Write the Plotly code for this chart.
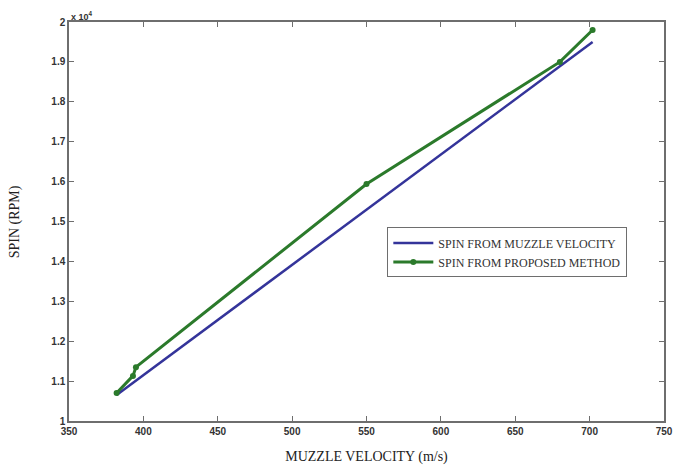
import plotly.graph_objects as go

# Data (RPM values)
vel_muzzle = [382, 702]
spin_muzzle = [10650, 19500]

vel_proposed = [382, 393, 395, 550, 680, 702]
spin_proposed = [10700, 11130, 11350, 15940, 19000, 19800]

x_ticks = [350, 400, 450, 500, 550, 600, 650, 700, 750]
y_tickvals = [10000, 11000, 12000, 13000, 14000, 15000, 16000, 17000, 18000, 19000, 20000]
y_ticktext = ["1", "1.1", "1.2", "1.3", "1.4", "1.5", "1.6", "1.7", "1.8", "1.9", "2"]

fig = go.Figure()
fig.add_trace(go.Scatter(
    x=vel_muzzle, y=spin_muzzle, mode="lines",
    name="SPIN FROM MUZZLE VELOCITY",
    line=dict(color="#34349a", width=2.5),
))
fig.add_trace(go.Scatter(
    x=vel_proposed, y=spin_proposed, mode="lines+markers",
    name="SPIN FROM PROPOSED METHOD",
    line=dict(color="#2b7a2b", width=3),
    marker=dict(color="#2b7a2b", size=6, symbol="circle"),
))

axis_common = dict(
    showline=True, linecolor="#6e6e6e", linewidth=1.5, mirror="allticks",
    ticks="inside", ticklen=5, tickcolor="#6e6e6e", tickwidth=1,
    showgrid=False, zeroline=False, automargin=False,
    tickfont=dict(family="Liberation Sans, Arial", size=10, color="#333333", weight="bold"),
)

fig.update_xaxes(
    range=[350, 750], tickvals=x_ticks, ticktext=[str(v) for v in x_ticks],
    title=dict(text="MUZZLE VELOCITY (m/s)",
               font=dict(family="Liberation Serif, Times New Roman", size=14, color="#222222")),
    **axis_common,
)
fig.update_yaxes(
    range=[10000, 20000], tickvals=y_tickvals, ticktext=y_ticktext,
    **axis_common,
)

fig.add_annotation(
    x=-0.091, y=0.5, xref="paper", yref="paper", xanchor="center", yanchor="middle",
    text="SPIN (RPM)", textangle=-90, showarrow=False,
    font=dict(family="Liberation Serif, Times New Roman", size=14, color="#222222"),
)

fig.add_annotation(
    x=0, y=1, xref="paper", yref="paper", xanchor="left", yanchor="bottom",
    text="x 10<sup>4</sup>", showarrow=False, yshift=-2,
    font=dict(family="Liberation Sans, Arial", size=9, color="#333333", weight="bold"),
)

fig.update_layout(
    width=683, height=472,
    margin=dict(l=69, r=19, t=22, b=51),
    plot_bgcolor="white", paper_bgcolor="white",
    legend=dict(
        x=0.535, y=0.485, xanchor="left", yanchor="top",
        bgcolor="white", bordercolor="#6e6e6e", borderwidth=1,
        font=dict(family="Liberation Serif, Times New Roman", size=12, color="#333333"),
        tracegroupgap=0, itemwidth=40,
    ),
    showlegend=True,
)

fig.write_html("out.html")
